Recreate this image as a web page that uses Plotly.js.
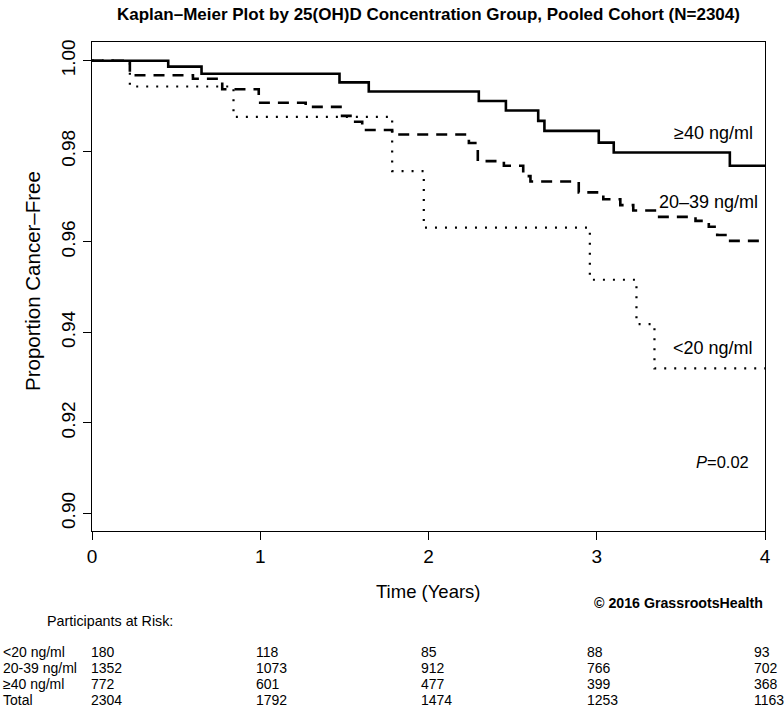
<!DOCTYPE html>
<html><head><meta charset="utf-8">
<script src="https://cdn.plot.ly/plotly-3.0.1.min.js"></script>
<style>body{margin:0;background:#fff}#chart{width:784px;height:713px}</style>
</head><body><div id="chart"></div>
<script>
// ---- data ----
const groupNames = ['<20 ng/ml', '20–39 ng/ml', '≥40 ng/ml'];

const timeLow = [0, 0.225, 0.841, 1.784, 1.972, 2.959, 3.236, 3.343, 4];
const survLow = [1.0, 0.9943, 0.9876, 0.9756, 0.9631, 0.9516, 0.9418, 0.9320, 0.9320];

const timeMid = [0, 0.225, 0.60, 0.774, 0.991, 1.27, 1.477, 1.546, 1.606, 1.784, 2.24, 2.293, 2.448, 2.563, 2.606, 2.893, 3.039, 3.14, 3.217, 3.359, 3.587, 3.666, 3.716, 3.777, 4];
const survMid = [1.0, 0.9968, 0.9960, 0.9937, 0.9907, 0.9898, 0.9878, 0.9865, 0.9847, 0.9837, 0.9818, 0.9778, 0.9768, 0.9745, 0.9733, 0.9709, 0.9694, 0.9681, 0.9669, 0.9655, 0.9646, 0.9633, 0.9615, 0.9602, 0.9602];

const timeHigh = [0, 0.453, 0.651, 1.471, 1.645, 2.299, 2.460, 2.652, 2.689, 3.012, 3.101, 3.791, 4];
const survHigh = [1.0, 0.9987, 0.9971, 0.9952, 0.9932, 0.9911, 0.9890, 0.9867, 0.9845, 0.9819, 0.9797, 0.9768, 0.9768];

const xTicks = [0, 1, 2, 3, 4];
const xTickText = ['0', '1', '2', '3', '4'];
const yTicks = [0.90, 0.92, 0.94, 0.96, 0.98, 1.00];
const yTickText = ['0.90', '0.92', '0.94', '0.96', '0.98', '1.00'];

const riskRowLabels = ['<20 ng/ml', '20-39 ng/ml', '≥40 ng/ml', 'Total'];
const riskLow = [180, 118, 85, 88, 93];
const riskMid = [1352, 1073, 912, 766, 702];
const riskHigh = [772, 601, 477, 399, 368];
const riskTotal = [2304, 1792, 1474, 1253, 1163];

const pValueText = '0.02';
const titleText = 'Kaplan–Meier Plot by 25(OH)D Concentration Group, Pooled Cohort (N=2304)';

// ---- layout helpers ----
const W = 784, H = 713;
const M = {l: 92, r: 19, t: 42, b: 182};
const PW = W - M.l - M.r, PH = H - M.t - M.b;
const px = x => (x - M.l) / PW;
const py = y => (H - M.b - y) / PH;
const FONT = 'Liberation Sans, Arial, Helvetica, sans-serif';

const traces = [
  {x: timeHigh, y: survHigh, name: groupNames[2], mode: 'lines',
   line: {shape: 'hv', color: '#000', width: 2.6}},
  {x: timeMid, y: survMid, name: groupNames[1], mode: 'lines',
   line: {shape: 'hv', color: '#000', width: 2.6, dash: '11px,8px'}},
  {x: timeLow, y: survLow, name: groupNames[0], mode: 'lines',
   line: {shape: 'hv', color: '#000', width: 2.2, dash: '2px,8px'}}
];

const ann = [];
ann.push({text: '<b>' + titleText + '</b>', xref: 'paper', yref: 'paper',
  x: px(428), y: py(14), xanchor: 'center', yanchor: 'middle', showarrow: false,
  font: {family: FONT, size: 17, color: '#000'}});
ann.push({text: 'Proportion Cancer–Free', xref: 'paper', yref: 'paper',
  x: px(32), y: py(281), textangle: -90, xanchor: 'center', yanchor: 'middle',
  showarrow: false, font: {family: FONT, size: 20.5, color: '#000'}});
ann.push({text: 'Time (Years)', xref: 'paper', yref: 'paper',
  x: px(428), y: py(591), xanchor: 'center', yanchor: 'middle', showarrow: false,
  font: {family: FONT, size: 18.5, color: '#000'}});
ann.push({text: '<b>© 2016 GrassrootsHealth</b>', xref: 'paper', yref: 'paper',
  x: px(765), y: py(603), xanchor: 'right', yanchor: 'middle', showarrow: false,
  font: {family: FONT, size: 14.2, color: '#000'}});
ann.push({text: '≥40 ng/ml', xref: 'paper', yref: 'paper',
  x: px(755), y: py(133), xanchor: 'right', yanchor: 'middle', showarrow: false,
  font: {family: FONT, size: 18, color: '#000'}});
ann.push({text: '20–39 ng/ml', xref: 'paper', yref: 'paper',
  x: px(760), y: py(202), xanchor: 'right', yanchor: 'middle', showarrow: false,
  font: {family: FONT, size: 18, color: '#000'}});
ann.push({text: '<20 ng/ml', xref: 'paper', yref: 'paper',
  x: px(755), y: py(348), xanchor: 'right', yanchor: 'middle', showarrow: false,
  font: {family: FONT, size: 18, color: '#000'}});
ann.push({text: '<i>P</i>=' + pValueText, xref: 'paper', yref: 'paper',
  x: px(751), y: py(462), xanchor: 'right', yanchor: 'middle', showarrow: false,
  font: {family: FONT, size: 16.5, color: '#000'}});
ann.push({text: 'Participants at Risk:', xref: 'paper', yref: 'paper',
  x: px(45), y: py(621), xanchor: 'left', yanchor: 'middle', showarrow: false,
  font: {family: FONT, size: 14.3, color: '#000'}});

const rows = [riskLow, riskMid, riskHigh, riskTotal];
const rowY = [652, 668, 684, 700];
const colX = [89, 254, 419, 585, 752];
rows.forEach((row, i) => {
  ann.push({text: riskRowLabels[i], xref: 'paper', yref: 'paper',
    x: px(1), y: py(rowY[i]), xanchor: 'left', yanchor: 'middle', showarrow: false,
    font: {family: FONT, size: 14, color: '#000'}});
  row.forEach((v, j) => {
    ann.push({text: String(v), xref: 'paper', yref: 'paper',
      x: px(colX[j]), y: py(rowY[i]), xanchor: 'left', yanchor: 'middle', showarrow: false,
      font: {family: FONT, size: 14, color: '#000'}});
  });
});

const axisCommon = {
  showline: true, linecolor: '#000', linewidth: 1, mirror: true,
  ticks: 'outside', ticklen: 8, tickwidth: 1, tickcolor: '#000',
  showgrid: false, zeroline: false,
  tickfont: {family: FONT, size: 19, color: '#000'}
};

const layout = {
  width: W, height: H, margin: M, showlegend: false,
  paper_bgcolor: '#fff', plot_bgcolor: '#fff',
  xaxis: Object.assign({}, axisCommon, {range: [0, 4], tickmode: 'array',
    tickvals: xTicks, ticktext: xTickText}),
  yaxis: Object.assign({}, axisCommon, {range: [0.89609, 1.00413], tickmode: 'array',
    tickvals: yTicks, ticktext: yTickText, tickangle: -90}),
  annotations: ann
};

Plotly.newPlot('chart', traces, layout, {displayModeBar: false, staticPlot: true});
</script>
</body></html>
